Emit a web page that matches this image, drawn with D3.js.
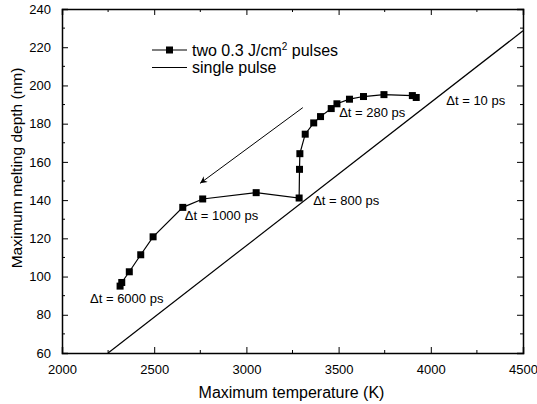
<!DOCTYPE html>
<html>
<head>
<meta charset="utf-8">
<script src="https://cdn.jsdelivr.net/npm/d3@7"></script>
<style>
    body { margin: 0; background: #fff; }
    text { font-family: "Liberation Sans", Arial, sans-serif; fill: #000; }
</style>
</head>
<body>
<div id="chart"></div>
<script>
// two 0.3 J/cm2 pulses: maximum temperature (K) vs maximum melting depth (nm)
const pulseTemp = [2315, 2324, 2365, 2427, 2494, 2655, 2763, 3053, 3286, 3288, 3290, 3319, 3365, 3402, 3460, 3491, 3559, 3635, 3746, 3900, 3921];
const pulseDepth = [95, 96.9, 102.5, 111.4, 120.8, 136.2, 140.6, 143.9, 141.1, 156.1, 164.3, 174.5, 180.4, 183.7, 187.9, 190.4, 192.8, 194.2, 195.2, 194.7, 193.7];

// single pulse line
const singleTemp = [2250, 4500];
const singleDepth = [60, 228.6];

// delay labels: text, temperature, depth
const labelText = ["\u0394t = 10 ps", "\u0394t = 280 ps", "\u0394t = 800 ps", "\u0394t = 1000 ps", "\u0394t = 6000 ps"];
const labelTemp = [4084, 3503, 3362, 2666, 2152];
const labelDepth = [189.8, 183.3, 137.7, 129.8, 86.3];

// arrow from / to
const arrowTemp = [3306, 2749];
const arrowDepth = [188.4, 148.8];

const xTicks = [2000, 2500, 3000, 3500, 4000, 4500];
const yTicks = [60, 80, 100, 120, 140, 160, 180, 200, 220, 240];

function renderChart() {
    const margin = {top: 9, right: 14, bottom: 51, left: 62},
        width = 537 - margin.left - margin.right,
        height = 404 - margin.top - margin.bottom;

    const svg = d3.select("#chart").append("svg")
        .attr("width", 537)
        .attr("height", 404)
        .append("g")
        .attr("transform", "translate(" + margin.left + "," + margin.top + ")");

    const x = d3.scaleLinear().domain([2000, 4500]).range([0, width]);
    const y = d3.scaleLinear().domain([60, 240]).range([height, 0]);

    const xMinor = d3.range(2000, 4501, 250).filter(v => xTicks.indexOf(v) < 0);
    const yMinor = d3.range(60, 241, 10).filter(v => yTicks.indexOf(v) < 0);

    // bottom axis with labels, ticks inward
    const bottom = svg.append("g")
        .attr("transform", "translate(0," + height + ")")
        .call(d3.axisBottom(x).tickValues(xTicks).tickSize(-6).tickPadding(12).tickFormat(d3.format("d")));
    bottom.append("g").selectAll("line").data(xMinor).enter().append("line")
        .attr("x1", d => x(d)).attr("x2", d => x(d)).attr("y1", 0).attr("y2", -3).attr("stroke", "#000");

    const left = svg.append("g")
        .call(d3.axisLeft(y).tickValues(yTicks).tickSize(-6).tickPadding(11));
    left.append("g").selectAll("line").data(yMinor).enter().append("line")
        .attr("y1", d => y(d)).attr("y2", d => y(d)).attr("x1", 0).attr("x2", 3).attr("stroke", "#000");

    const top = svg.append("g")
        .call(d3.axisTop(x).tickValues(xTicks).tickSize(-6).tickFormat(""));
    top.append("g").selectAll("line").data(xMinor).enter().append("line")
        .attr("x1", d => x(d)).attr("x2", d => x(d)).attr("y1", 0).attr("y2", 3).attr("stroke", "#000");

    const right = svg.append("g")
        .attr("transform", "translate(" + width + ",0)")
        .call(d3.axisRight(y).tickValues(yTicks).tickSize(-6).tickFormat(""));
    right.append("g").selectAll("line").data(yMinor).enter().append("line")
        .attr("y1", d => y(d)).attr("y2", d => y(d)).attr("x1", 0).attr("x2", -3).attr("stroke", "#000");

    svg.selectAll(".domain").attr("stroke-width", 1.5);
    svg.selectAll(".tick text").style("font-size", "13px");

    // single pulse line
    const single = singleTemp.map((t, i) => [t, singleDepth[i]]);
    svg.append("path")
        .datum(single)
        .attr("fill", "none")
        .attr("stroke", "#000")
        .attr("stroke-width", 1.2)
        .attr("d", d3.line().x(d => x(d[0])).y(d => y(d[1])));

    // two pulses line + markers
    const pulses = pulseTemp.map((t, i) => [t, pulseDepth[i]]);
    svg.append("path")
        .datum(pulses)
        .attr("fill", "none")
        .attr("stroke", "#000")
        .attr("stroke-width", 1.2)
        .attr("d", d3.line().x(d => x(d[0])).y(d => y(d[1])));
    svg.selectAll("pulse-dot")
        .data(pulses)
        .enter()
        .append("rect")
        .attr("x", d => x(d[0]) - 3.5)
        .attr("y", d => y(d[1]) - 3.5)
        .attr("width", 7)
        .attr("height", 7)
        .attr("fill", "#000");

    // arrow
    svg.append("defs").append("marker")
        .attr("id", "head")
        .attr("viewBox", "0 0 10 10")
        .attr("refX", 10).attr("refY", 5)
        .attr("markerWidth", 9).attr("markerHeight", 7)
        .attr("markerUnits", "userSpaceOnUse")
        .attr("orient", "auto")
        .append("path")
        .attr("d", "M0,0 L10,5 L0,10 L3,5 Z")
        .attr("fill", "#000");
    svg.append("line")
        .attr("x1", x(arrowTemp[0])).attr("y1", y(arrowDepth[0]))
        .attr("x2", x(arrowTemp[1])).attr("y2", y(arrowDepth[1]))
        .attr("stroke", "#000")
        .attr("stroke-width", 1)
        .attr("marker-end", "url(#head)");

    // delay labels
    svg.selectAll("delay-label")
        .data(labelText)
        .enter()
        .append("text")
        .attr("x", (d, i) => x(labelTemp[i]))
        .attr("y", (d, i) => y(labelDepth[i]))
        .style("font-size", "13px")
        .text(d => d);

    // legend
    const lg = svg.append("g").attr("transform", "translate(90,41)");
    lg.append("line").attr("x1", 0).attr("x2", 35).attr("y1", 0).attr("y2", 0).attr("stroke", "#000").attr("stroke-width", 1.2);
    lg.append("rect").attr("x", 14).attr("y", -3.5).attr("width", 7).attr("height", 7).attr("fill", "#000");
    const t1 = lg.append("text").attr("x", 40).attr("y", 5.5).style("font-size", "16px");
    t1.append("tspan").text("two 0.3 J/cm");
    t1.append("tspan").attr("dy", -6).style("font-size", "10px").text("2");
    t1.append("tspan").attr("dy", 6).text(" pulses");
    lg.append("line").attr("x1", 0).attr("x2", 35).attr("y1", 17.5).attr("y2", 17.5).attr("stroke", "#000").attr("stroke-width", 1.2);
    lg.append("text").attr("x", 40).attr("y", 23).style("font-size", "16px").text("single pulse");

    // axis titles
    svg.append("text")
        .attr("x", 291.5 - margin.left)
        .attr("y", height + 45)
        .attr("text-anchor", "middle")
        .style("font-size", "16px")
        .text("Maximum temperature (K)");
    svg.append("text")
        .attr("transform", "rotate(-90)")
        .attr("x", -(168 - margin.top))
        .attr("y", -40)
        .attr("text-anchor", "middle")
        .style("font-size", "15.5px")
        .text("Maximum melting depth (nm)");
}

renderChart();
</script>
</body>
</html>
